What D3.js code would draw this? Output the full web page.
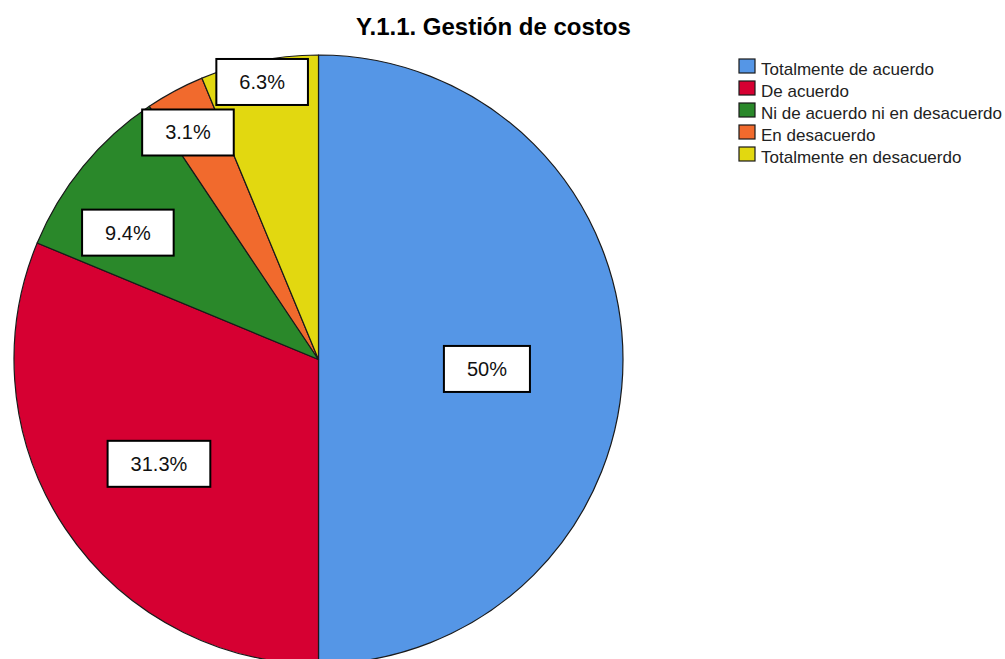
<!DOCTYPE html>
<html>
<head>
<meta charset="utf-8">
<script src="https://cdn.jsdelivr.net/npm/d3@7"></script>
<style>
  html, body { margin: 0; padding: 0; background: #fff; }
  svg { display: block; }
</style>
</head>
<body>
<svg id="chart" width="1005" height="659"></svg>
<script>
const title = "Y.1.1. Gestión de costos";
const categories = ["Totalmente de acuerdo", "De acuerdo", "Ni de acuerdo ni en desacuerdo", "En desacuerdo", "Totalmente en desacuerdo"];
const values = [50, 31.25, 9.375, 3.125, 6.25];
const labels = ["50%", "31.3%", "9.4%", "3.1%", "6.3%"];
const colors = ["#5596E6", "#D60032", "#2A882A", "#F16A2D", "#E2D810"];

// layout (not data)
const cx = 318.5, cy = 359.5, R = 304.5;
const labelRadiusFrac = [0.554, 0.626, 0.752, 0.86, 0.93];
const labelAngleShift = [0.056, 0.01, -0.1, -0.031, -0.004];

const svg = d3.select("#chart");

svg.append("text")
  .attr("x", 493.5).attr("y", 35)
  .attr("text-anchor", "middle")
  .attr("font-family", "Liberation Sans, Arial, sans-serif")
  .attr("font-weight", "bold")
  .attr("font-size", 24)
  .attr("fill", "#000")
  .text(title);

const pie = d3.pie().sort(null).value(d => d);
const arcs = pie(values);
const arc = d3.arc().innerRadius(0).outerRadius(R);

const g = svg.append("g").attr("transform", `translate(${cx},${cy})`);
g.selectAll("path.slice").data(arcs).enter().append("path")
  .attr("class", "slice")
  .attr("d", arc)
  .attr("fill", (d, i) => colors[i])
  .attr("stroke", "#1a1a1a")
  .attr("stroke-width", 1.2)
  .attr("stroke-linejoin", "round");

const fontLbl = "Liberation Sans, Arial, sans-serif";
arcs.forEach((d, i) => {
  const a = (d.startAngle + d.endAngle) / 2 + labelAngleShift[i];
  const r = R * labelRadiusFrac[i];
  const x = Math.sin(a) * r, y = -Math.cos(a) * r;
  const lg = g.append("g").attr("transform", `translate(${x},${y})`);
  const t = lg.append("text")
    .attr("text-anchor", "middle")
    .attr("dy", "0.35em")
    .attr("font-family", fontLbl)
    .attr("font-size", 20)
    .attr("fill", "#111")
    .text(labels[i]);
  const w = t.node().getComputedTextLength() + 46;
  const h = 46;
  lg.insert("rect", "text")
    .attr("x", -w / 2).attr("y", -h / 2)
    .attr("width", w).attr("height", h)
    .attr("fill", "#fff")
    .attr("stroke", "#000")
    .attr("stroke-width", 2);
});

const legend = svg.append("g").attr("transform", "translate(739,59)");
const rows = legend.selectAll("g").data(categories).enter().append("g")
  .attr("transform", (d, i) => `translate(0,${i * 22})`);
rows.append("rect")
  .attr("x", 0).attr("y", 0).attr("width", 16).attr("height", 14)
  .attr("fill", (d, i) => colors[i])
  .attr("stroke", "#1a1a1a").attr("stroke-width", 1.2);
rows.append("text")
  .attr("x", 22).attr("y", 15.5)
  .attr("font-family", "Liberation Sans, Arial, sans-serif")
  .attr("font-size", 17)
  .attr("fill", "#222")
  .text(d => d);
</script>
</body>
</html>
